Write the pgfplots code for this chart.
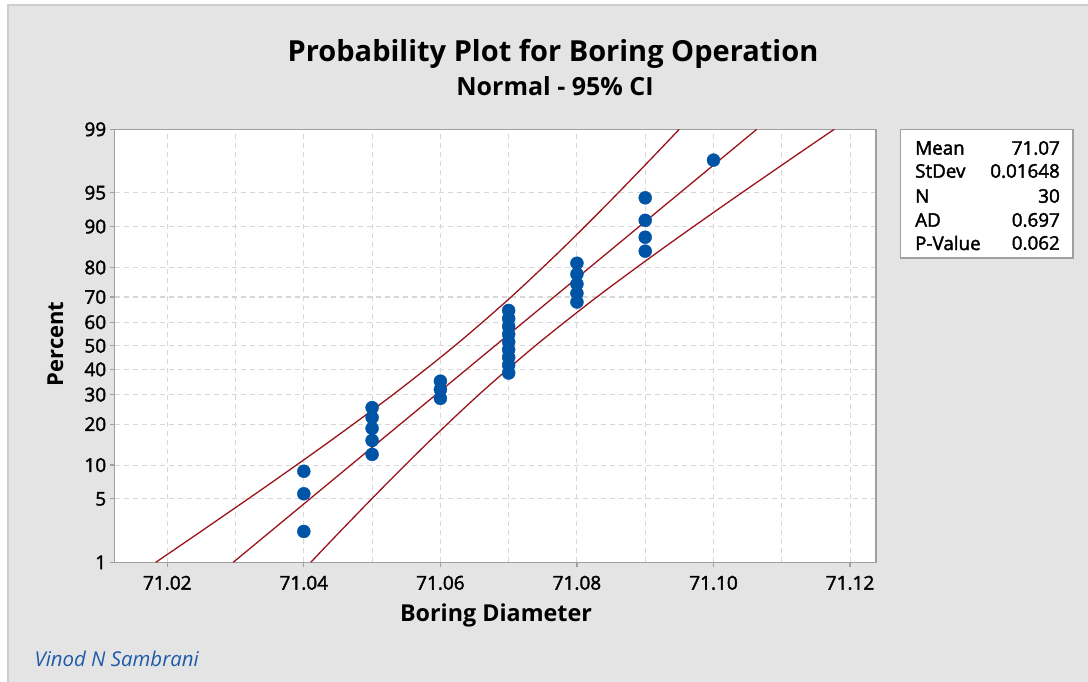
\documentclass[border=0pt]{standalone}
\usepackage{pgfplots}
\pgfplotsset{compat=1.18}
\usepackage{pgfplotstable}
\usepackage{fontspec}
\setmainfont{Open Sans}
\newfontfamily\semib[FakeBold=2]{Open Sans}
\definecolor{bg}{RGB}{228,228,228}
\definecolor{framec}{RGB}{205,205,205}
\definecolor{axgray}{RGB}{160,160,160}
\definecolor{gridgray}{RGB}{215,215,215}
\definecolor{mblue}{RGB}{0,84,166}
\definecolor{mred}{RGB}{155,20,28}
\definecolor{nameblue}{RGB}{30,90,170}

% observed data: diameter, normal score of median rank (i-0.3)/(n+0.4)
\pgfplotstableread{
x z
71.04 -1.9950
71.04 -1.5900
71.04 -1.3480
71.05 -1.1665
71.05 -1.0169
71.05 -0.8872
71.05 -0.7709
71.05 -0.6642
71.06 -0.5646
71.06 -0.4703
71.06 -0.3800
71.07 -0.2927
71.07 -0.2076
71.07 -0.1240
71.07 -0.0413
71.07 0.0413
71.07 0.1240
71.07 0.2076
71.07 0.2927
71.07 0.3800
71.08 0.4703
71.08 0.5646
71.08 0.6642
71.08 0.7709
71.08 0.8872
71.09 1.0169
71.09 1.1665
71.09 1.3480
71.09 1.5900
71.10 1.9950
}\obsdata

% fitted line and 95% confidence band
\pgfplotstableread{
z fit lo hi
-2.3263 71.029663 71.018316 71.041018
-2.0000 71.035040 71.024826 71.045254
-1.5000 71.043280 71.034684 71.051876
-1.0000 71.051520 71.044298 71.058742
-0.5000 71.059760 71.053505 71.066015
0.0000 71.068000 71.062103 71.073897
0.5000 71.076240 71.069985 71.082495
1.0000 71.084480 71.077258 71.091702
1.5000 71.092720 71.084124 71.101316
2.0000 71.100960 71.090746 71.111174
2.3263 71.106337 71.094982 71.117684
}\fitdata

\begin{document}
\begin{tikzpicture}
\useasboundingbox (0pt,0pt) rectangle (1088pt,681pt);
\fill[white] (0pt,0pt) rectangle (1088pt,681pt);
\fill[bg] (8pt,-5pt) rectangle (1100pt,676pt);
\draw[framec, line width=1.5pt] (8pt,-5pt) -- (8pt,676pt) -- (1100pt,676pt);

\begin{axis}[
  at={(114.7pt,118.7pt)}, anchor=south west,
  scale only axis, width=761.3pt, height=433pt,
  xmin=71.0123, xmax=71.1238,
  ymin=-2.3263, ymax=2.3263,
  axis background/.style={fill=white},
  axis line style={axgray, line width=1.3pt},
  xtick={71.02,71.04,71.06,71.08,71.10,71.12},
  xticklabels={71.02,71.04,71.06,71.08,71.10,71.12},
  minor xtick={71.03,71.05,71.07,71.09,71.11},
  ytick={-2.3263,-1.6449,-1.2816,-0.8416,-0.5244,-0.2533,0,0.2533,0.5244,0.8416,1.2816,1.6449,2.3263},
  yticklabels={1,5,10,20,30,40,50,60,70,80,90,95,99},
  xtick pos=bottom, ytick pos=left,
  tick align=outside,
  major tick length=5pt, minor tick length=0pt,
  every tick/.style={axgray, line width=1.2pt},
  grid=both,
  major grid style={gridgray, line width=1.1pt, dash pattern=on 5pt off 4pt},
  minor grid style={gridgray, line width=1.1pt, dash pattern=on 5pt off 4pt},
  tick label style={font=\semib\fontsize{19}{22}\selectfont, black},
  xticklabel style={yshift=-5pt},
  clip=true,
]
\addplot[mred, line width=1.3pt, smooth] table[x=lo, y=z] {\fitdata};
\addplot[mred, line width=1.3pt] table[x=fit, y=z] {\fitdata};
\addplot[mred, line width=1.3pt, smooth] table[x=hi, y=z] {\fitdata};
\addplot[only marks, mark=*, mark size=6.5pt, mark options={fill=mblue, draw=mblue}] table[x=x, y=z] {\obsdata};
\end{axis}

% titles
\node[anchor=base] at (553pt,619pt) {\fontsize{29}{34}\selectfont\bfseries Probability Plot for Boring Operation};
\node[anchor=base] at (555pt,585pt) {\fontsize{25}{30}\selectfont\bfseries Normal - 95\% CI};
\node[anchor=base] at (496pt,59.3pt) {\fontsize{23.3}{28}\selectfont\bfseries Boring Diameter};
\node[anchor=base, rotate=90] at (63pt,337pt) {\fontsize{22}{26}\selectfont\bfseries Percent};
\node[anchor=base west, text=nameblue] at (31pt,14.3pt) {\fontsize{20.4}{24}\selectfont\itshape Vinod N Sambrani};

% statistics box
\draw[axgray, fill=white, line width=1.2pt] (900.7pt,423pt) rectangle (1073pt,551.7pt);
\foreach \lab/\val/\yy in {Mean/71.07/148, StDev/0.01648/171, N/30/196, AD/0.697/220, P-Value/0.062/243}{
  \node[anchor=west, inner sep=0pt] at (915pt,681pt-\yy pt) {\semib\fontsize{18.8}{22}\selectfont \lab};
  \node[anchor=east, inner sep=0pt] at (1060pt,681pt-\yy pt) {\semib\fontsize{18.8}{22}\selectfont \val};
}
\end{tikzpicture}
\end{document}
